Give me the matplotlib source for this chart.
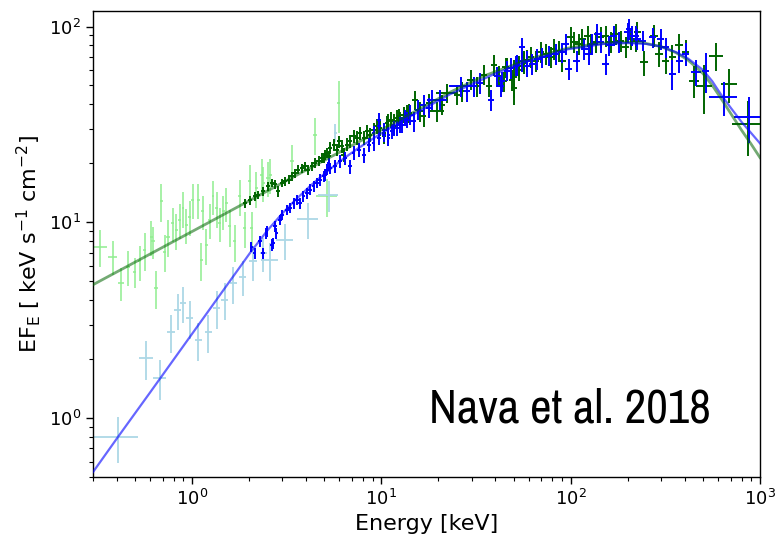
import matplotlib
matplotlib.use("Agg")
import matplotlib.pyplot as plt
from matplotlib import font_manager
from matplotlib.font_manager import FontProperties

# ---- soft X-ray band, early spectrum (light green) ----
lg_energy = [0.327, 0.382, 0.423, 0.458, 0.497, 0.529, 0.562, 0.609, 0.622, 0.647,
             0.689, 0.718, 0.746, 0.793, 0.826, 0.861, 0.896, 0.933, 0.972, 1.01,
             1.08, 1.12, 1.14, 1.19, 1.24, 1.29, 1.35, 1.40, 1.46, 1.52,
             1.58, 1.68, 1.79, 1.90, 2.02, 2.19, 2.33, 2.38, 2.59, 2.52,
             3.37, 4.48, 5.95, 5.16, 2.07]
lg_flux = [7.52, 6.68, 4.89, 5.94, 5.60, 6.31, 7.23, 8.46, 7.98, 4.61,
           12.8, 7.09, 8.46, 9.90, 9.16, 10.3, 11.8, 9.71, 10.7, 13.0,
           13.0, 6.43, 11.4, 7.67, 10.3, 13.6, 11.8, 9.90, 11.4, 12.5,
           9.52, 7.98, 13.6, 9.33, 16.2, 15.0, 17.5, 15.9, 17.5, 16.9,
           20.5, 28.0, 40.7, 13.6, 9.33]
lg_energy_err = [0.027, 0.020, 0.015, 0.012, 0.012, 0.012, 0.012, 0.012, 0.012, 0.015,
                 0.015, 0.015, 0.015, 0.015, 0.015, 0.015, 0.015, 0.015, 0.015, 0.020,
                 0.020, 0.020, 0.020, 0.020, 0.020, 0.020, 0.020, 0.025, 0.025, 0.025,
                 0.025, 0.030, 0.030, 0.030, 0.040, 0.040, 0.040, 0.040, 0.050, 0.050,
                 0.080, 0.100, 0.120, 0.650, 0.040]
lg_flux_err = [1.6, 1.3, 0.95, 1.2, 1.0, 1.3, 1.6, 1.7, 1.5, 1.0,
               2.8, 1.5, 1.8, 2.0, 1.9, 2.1, 2.4, 2.0, 2.2, 2.6,
               2.6, 1.4, 2.3, 1.6, 2.1, 2.7, 2.4, 2.0, 2.3, 2.5,
               2.0, 1.7, 2.8, 1.9, 3.4, 3.1, 3.6, 3.2, 3.6, 3.4,
               4.3, 6.0, 12.0, 3.0, 2.0]

# ---- soft X-ray band, later spectrum (light blue) ----
lb_energy = [0.406, 0.573, 0.675, 0.777, 0.843, 0.896, 0.972, 1.08, 1.22, 1.35,
             1.49, 1.65, 1.86, 2.10, 2.58, 3.09, 4.12, 5.27, 5.71, 2.38]
lb_flux = [0.797, 2.02, 1.61, 2.76, 3.57, 3.86, 3.24, 2.51, 2.76, 3.64,
           4.02, 4.89, 5.28, 6.31, 6.43, 8.13, 10.4, 13.8, 28.7, 6.95]
lb_energy_err = [0.11, 0.046, 0.054, 0.035, 0.035, 0.035, 0.04, 0.045, 0.05, 0.055,
                 0.06, 0.07, 0.08, 0.10, 0.27, 0.32, 0.53, 0.65, 0.10, 0.10]
lb_flux_err = [0.21, 0.45, 0.38, 0.60, 0.75, 0.80, 0.70, 0.55, 0.60, 0.80,
               0.85, 1.05, 1.10, 1.30, 1.40, 1.70, 2.20, 2.50, 3.00, 1.40]

# ---- hard X-ray / gamma band, early spectrum (dark green) ----
dg_energy = [1.91, 2.03, 2.15, 2.24, 2.38, 2.53, 2.64, 2.75, 2.86, 2.98,
             3.10, 3.24, 3.37, 3.51, 3.65, 3.80, 3.96, 4.12, 4.30, 4.48,
             4.66, 4.85, 5.05, 5.26, 4.95, 5.16, 5.37, 5.60, 5.83, 5.95,
             6.19, 6.32, 6.58, 6.86, 7.13, 7.43, 7.74, 8.06, 8.40, 8.74,
             9.10, 9.48, 9.88, 10.3, 10.7, 11.2, 11.6, 12.1, 12.6, 13.1,
             13.7, 10.3, 10.9, 11.6, 12.4, 14.0, 15.1, 16.1, 16.7, 17.8,
             19.7, 21.0, 22.3, 25.2, 26.8, 29.6, 32.1, 34.8, 37.0, 39.3,
             41.8, 44.4, 46.3, 49.2, 50.1, 53.2, 56.6, 59.0, 45.3, 50.1,
             53.2, 56.6, 61.4, 65.3, 69.4, 73.8, 78.4, 81.6, 86.7, 90.3,
             100, 104, 111, 115, 123, 128, 136, 144, 153, 163,
             173, 184, 195, 208, 221, 225, 244, 276, 293, 318,
             345, 374, 406, 449, 507, 585, 688, 861]
dg_flux = [12.5, 13.0, 13.6, 13.8, 14.4, 15.3, 15.9, 15.6, 14.4, 15.9,
           16.2, 16.5, 17.2, 17.8, 18.6, 18.9, 19.3, 18.6, 19.3, 20.1,
           20.5, 21.3, 22.1, 21.7, 21.3, 22.6, 24.0, 24.9, 23.5, 25.9,
           24.4, 22.1, 24.9, 25.9, 27.5, 27.0, 28.6, 27.0, 29.1, 28.0,
           29.7, 30.9, 30.3, 27.5, 32.2, 33.4, 32.8, 34.1, 33.4, 35.5,
           36.2, 28.6, 32.8, 30.9, 34.8, 36.2, 42.3, 36.9, 34.8, 40.7,
           36.9, 39.9, 45.8, 44.9, 46.7, 53.6, 49.5, 56.8, 49.5, 63.9,
           55.7, 52.5, 61.5, 53.6, 48.5, 60.3, 65.2, 67.8, 61.9, 55.1,
           63.2, 67.0, 69.7, 67.0, 73.9, 72.5, 69.7, 76.9, 75.4, 67.0,
           88.2, 83.2, 81.6, 86.5, 89.9, 81.6, 83.2, 88.2, 89.9, 83.2,
           91.8, 84.8, 78.4, 86.5, 84.8, 93.5, 65.7, 89.9, 72.5, 67.0,
           69.7, 80.0, 73.9, 52.9, 49.9, 71.1, 50.9, 31.8]
dg_energy_err = [0.05, 0.05, 0.05, 0.05, 0.06, 0.06, 0.06, 0.07, 0.07, 0.07,
                 0.08, 0.08, 0.08, 0.09, 0.09, 0.09, 0.10, 0.10, 0.11, 0.11,
                 0.12, 0.12, 0.13, 0.13, 0.12, 0.13, 0.13, 0.14, 0.14, 0.15,
                 0.15, 0.16, 0.16, 0.17, 0.18, 0.18, 0.19, 0.20, 0.21, 0.22,
                 0.23, 0.24, 0.25, 0.26, 0.27, 0.28, 0.29, 0.30, 0.32, 0.33,
                 0.34, 0.26, 0.27, 0.29, 0.31, 0.50, 0.55, 0.60, 0.60, 0.65,
                 1.60, 0.80, 2.80, 0.90, 1.00, 1.10, 1.20, 1.30, 1.40, 1.50,
                 1.50, 1.60, 1.70, 1.80, 1.80, 1.90, 2.00, 2.10, 1.70, 1.80,
                 1.90, 2.00, 2.60, 2.70, 2.90, 3.10, 3.30, 3.40, 3.60, 3.80,
                 4.5, 4.7, 5.0, 5.2, 5.5, 5.8, 6.1, 6.5, 6.9, 7.3,
                 7.8, 8.3, 8.8, 9.4, 10, 10, 11, 12, 13, 14,
                 15, 17, 18, 27, 50, 49, 69, 150]
dg_flux_err = [0.6, 0.7, 0.7, 0.7, 0.8, 0.8, 0.8, 0.8, 1.0, 0.8,
               0.8, 0.9, 0.9, 0.9, 1.0, 1.0, 1.0, 1.1, 1.1, 1.2,
               1.2, 1.3, 1.4, 1.4, 1.3, 1.4, 1.6, 1.7, 1.7, 1.8,
               1.8, 1.8, 1.9, 2.0, 2.1, 2.1, 2.2, 2.2, 2.4, 2.4,
               2.5, 2.6, 2.6, 2.5, 2.9, 3.0, 3.0, 3.2, 3.2, 3.5,
               3.6, 2.6, 3.0, 2.9, 3.3, 4.0, 4.8, 4.2, 4.0, 4.7,
               4.3, 4.6, 5.3, 5.3, 5.5, 6.3, 5.9, 6.8, 6.0, 7.7,
               6.8, 6.4, 7.5, 6.6, 9.0, 7.4, 8.0, 8.3, 7.5, 12.0,
               7.7, 8.2, 8.5, 8.2, 9.0, 8.9, 8.5, 9.4, 9.2, 8.2,
               10.8, 10.2, 10.0, 10.6, 11.0, 10.0, 10.2, 10.8, 11.0, 10.2,
               11.2, 10.4, 9.6, 10.6, 10.4, 11.5, 9.5, 11.5, 10.5, 10.0,
               10.5, 12.0, 11.0, 10.0, 14.0, 11.5, 10.0, 10.0]

# ---- hard X-ray / gamma band, later spectrum (blue) ----
bl_energy = [2.06, 2.15, 2.28, 2.37, 2.47, 2.48, 2.68, 2.79, 2.64, 2.75,
             2.92, 2.98, 3.17, 3.30, 3.44, 3.58, 3.73, 3.88, 4.04, 4.21,
             4.39, 4.57, 4.76, 4.95, 5.16, 5.26, 5.05, 5.37, 5.71, 6.07,
             6.45, 6.86, 7.13, 7.59, 8.06, 8.57, 9.10, 9.68, 10.3, 10.9,
             11.4, 12.1, 12.9, 13.7, 9.68, 9.10, 9.68, 10.3, 10.9, 11.6,
             12.6, 13.4, 14.2, 14.8, 15.7, 16.7, 17.8, 18.5, 20.5, 26.2,
             28.4, 30.8, 33.4, 37.8, 41.0, 43.5, 48.2, 52.2, 55.5, 59.0,
             42.6, 46.3, 51.2, 55.5, 59.0, 62.7, 66.7, 70.8, 76.8, 83.3,
             90.3, 94.1, 98.0, 108, 118, 125, 130, 138, 144, 153,
             160, 169, 180, 200, 212, 225, 204, 221, 240, 271,
             299, 318, 345, 374, 406, 458, 518, 647, 877]
bl_flux = [7.52, 6.95, 7.98, 6.95, 8.81, 8.97, 7.83, 8.81, 7.67, 9.52,
           10.3, 10.9, 11.6, 11.8, 12.5, 13.0, 12.5, 13.6, 14.1, 14.7,
           15.3, 15.9, 16.5, 17.2, 18.6, 20.1, 17.5, 18.9, 19.3, 20.5,
           21.3, 19.3, 22.6, 23.5, 22.1, 24.9, 25.4, 27.0, 28.0, 27.0,
           29.1, 30.3, 31.5, 33.4, 33.4, 28.6, 30.9, 29.7, 28.0, 30.3,
           31.5, 34.1, 35.5, 32.8, 37.6, 39.9, 38.4, 42.3, 42.3, 49.5,
           46.7, 49.5, 51.5, 42.3, 55.7, 52.5, 61.5, 63.9, 66.4, 63.0,
           49.9, 59.6, 63.2, 78.4, 67.0, 64.5, 68.4, 69.7, 71.1, 72.5,
           73.9, 81.6, 60.8, 67.0, 76.9, 72.5, 81.6, 91.8, 83.2, 64.5,
           80.0, 89.9, 83.2, 93.5, 89.9, 86.5, 97.3, 89.9, 84.8, 88.2,
           86.5, 78.4, 57.3, 67.0, 72.5, 58.4, 59.6, 43.5, 34.4]
bl_energy_err = [0.04, 0.04, 0.05, 0.05, 0.05, 0.05, 0.06, 0.06, 0.06, 0.06,
                 0.06, 0.07, 0.07, 0.07, 0.08, 0.08, 0.08, 0.09, 0.09, 0.10,
                 0.10, 0.10, 0.11, 0.11, 0.12, 0.12, 0.12, 0.12, 0.13, 0.14,
                 0.15, 0.16, 0.17, 0.18, 0.19, 0.20, 0.21, 0.22, 0.24, 0.25,
                 0.26, 0.28, 0.30, 0.32, 0.22, 0.21, 0.22, 0.24, 0.25, 0.27,
                 0.29, 0.31, 0.50, 0.50, 0.55, 0.60, 0.65, 1.10, 1.60, 3.40,
                 1.0, 1.1, 1.2, 1.4, 1.5, 1.6, 1.8, 1.9, 2.0, 2.1,
                 1.6, 1.7, 1.9, 2.0, 2.1, 2.7, 2.8, 3.0, 3.3, 3.5,
                 3.8, 4.0, 4.2, 4.6, 5.0, 5.3, 5.5, 5.9, 6.1, 6.5,
                 6.8, 7.2, 7.7, 8.5, 9.0, 9.6, 8.7, 9.4, 10, 12,
                 13, 14, 15, 16, 18, 28, 22, 110, 150]
bl_flux_err = [0.45, 0.45, 0.50, 0.45, 0.55, 0.55, 0.50, 0.55, 0.50, 0.60,
               0.60, 0.65, 0.70, 0.70, 0.75, 0.80, 0.80, 0.85, 0.90, 0.90,
               1.0, 1.0, 1.1, 1.1, 1.2, 1.3, 1.2, 1.3, 1.4, 1.5,
               1.6, 1.6, 1.8, 1.9, 1.9, 2.1, 2.2, 2.3, 2.4, 2.4,
               2.6, 2.7, 2.9, 3.1, 2.6, 2.4, 2.6, 2.6, 2.6, 2.8,
               2.9, 3.2, 4.0, 3.8, 4.3, 4.6, 4.5, 4.9, 4.9, 5.8,
               5.5, 5.8, 6.1, 5.3, 6.7, 6.3, 7.4, 7.7, 8.0, 7.6,
               6.0, 7.2, 7.6, 9.4, 8.0, 7.8, 8.2, 8.4, 8.6, 8.7,
               8.9, 9.8, 7.5, 8.1, 9.3, 8.7, 9.8, 11.0, 10.0, 7.8,
               9.6, 10.8, 10.0, 11.2, 10.8, 10.4, 11.7, 10.8, 10.2, 10.6,
               10.4, 9.4, 10.0, 9.0, 9.5, 9.0, 14.0, 8.7, 9.0]

# ---- best-fit model curves ----
green_model_energy = [0.3, 1.0, 3.0, 10.0, 16.0, 23.2, 35.0, 56.4, 75.0, 96.4,
                      127.6, 160, 200, 240, 300, 360, 416, 500, 560, 622,
                      700, 800, 900, 1000]
green_model_flux = [4.8, 8.97, 15.9, 29.7, 38.0, 46.3, 56.0, 66.5, 72.5, 77.5,
                    80.9, 82.6, 83.2, 82.6, 79.0, 73.5, 67.5, 57.5, 50.0, 43.0,
                    36.0, 29.5, 25.0, 21.4]
blue_model_energy = [0.3, 0.406, 0.6, 1.0, 1.5, 2.03, 2.5, 3.0, 3.5, 4.2,
                     5.0, 6.0, 7.5, 10.0, 15.0, 23.2, 40.0, 56.4, 96.4, 150,
                     200, 250, 300, 360, 416, 500, 560, 622, 700, 800, 900, 1000]
blue_model_flux = [0.53, 0.80, 1.35, 2.69, 4.65, 7.0, 9.08, 11.1, 12.95, 15.3,
                   17.7, 20.4, 23.8, 28.5, 35.8, 45.2, 57.5, 65.5, 76.5, 81.5,
                   82.3, 81.5, 79.0, 74.0, 68.7, 60.0, 52.5, 45.0, 38.5, 32.5, 28.5, 25.3]


def _weight_value(w):
    if isinstance(w, (int, float)):
        return float(w)
    named = {'ultralight': 200, 'light': 300, 'normal': 400, 'regular': 400,
             'book': 400, 'medium': 500, 'semibold': 600, 'demibold': 600,
             'bold': 700, 'heavy': 800, 'extra bold': 800, 'black': 900}
    return float(named.get(str(w).lower(), 400))


def narrow_regular_font():
    """Upright regular narrow sans face, preferring 'Narrow' over 'Condensed'."""
    entries = [f for f in font_manager.fontManager.ttflist
               if ('Narrow' in f.name or 'Condensed' in f.name)
               and f.style == 'normal']
    if not entries:
        return FontProperties(family=['Liberation Sans', 'DejaVu Sans'])
    entries.sort(key=lambda f: (abs(_weight_value(f.weight) - 400),
                                0 if 'Narrow' in f.name else 1, f.name))
    return FontProperties(fname=entries[0].fname)


fig = plt.figure(figsize=(7.79, 5.37), dpi=100)
ax = fig.add_axes([0.1194, 0.1117, 0.8562, 0.8678])

ax.errorbar(lg_energy, lg_flux, xerr=lg_energy_err, yerr=lg_flux_err,
            fmt='none', ecolor='lightgreen', elinewidth=1.1, zorder=2)
ax.errorbar(lb_energy, lb_flux, xerr=lb_energy_err, yerr=lb_flux_err,
            fmt='none', ecolor='lightblue', elinewidth=1.3, zorder=2)
ax.errorbar(dg_energy, dg_flux, xerr=dg_energy_err, yerr=dg_flux_err,
            fmt='none', ecolor='darkgreen', elinewidth=1.4, zorder=3)
ax.errorbar(bl_energy, bl_flux, xerr=bl_energy_err, yerr=bl_flux_err,
            fmt='none', ecolor='blue', elinewidth=1.4, zorder=4)

ax.plot(green_model_energy, green_model_flux, color='darkgreen', lw=2.0,
        alpha=0.55, zorder=5)
ax.plot(blue_model_energy, blue_model_flux, color='blue', lw=1.6,
        alpha=0.6, zorder=5)

ax.set_xscale('log')
ax.set_yscale('log')
ax.set_xlim(0.3, 1000)
ax.set_ylim(0.5, 120)

ax.tick_params(axis='both', which='major', labelsize=13, length=5, width=1.0)
ax.tick_params(axis='both', which='minor', length=3, width=0.8)
for s in ax.spines.values():
    s.set_linewidth(1.0)

ax.set_xlabel('Energy [keV]', fontsize=16, labelpad=4)
ax.set_ylabel(r'EF$_{\mathrm{E}}$ [ keV s$^{-1}$ cm$^{-2}$]', fontsize=16)
ax.yaxis.set_label_coords(-0.075, 0.5)

note_font = narrow_regular_font()
note_font.set_size(34)
ax.text(0.715, 0.145, 'Nava et al. 2018', transform=ax.transAxes,
        ha='center', va='center', fontproperties=note_font)

fig.savefig('out.png', dpi=100)
